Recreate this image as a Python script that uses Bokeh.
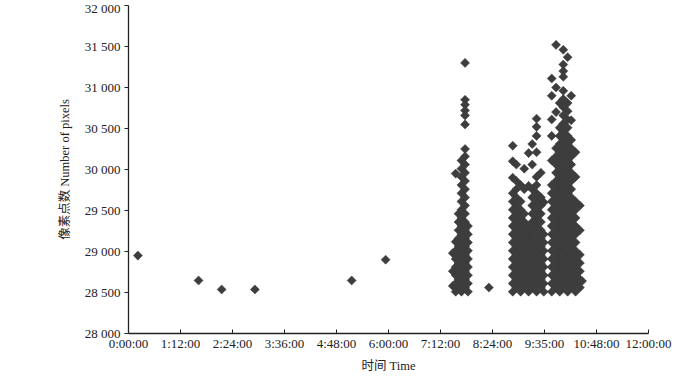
from bokeh.plotting import figure
from bokeh.models import FixedTicker
from bokeh.embed import file_html
from bokeh.resources import INLINE

# ---- data (time in minutes since 0:00:00, value = number of pixels) ----
x_ticks = [0, 72, 144, 216, 288, 360, 432, 504, 576, 648, 720]
x_tick_labels = ["0:00:00", "1:12:00", "2:24:00", "3:36:00", "4:48:00", "6:00:00",
                 "7:12:00", "8:24:00", "9:35:00", "10:48:00", "12:00:00"]
y_ticks = [28000, 28500, 29000, 29500, 30000, 30500, 31000, 31500, 32000]
y_tick_labels = ["28 000", "28 500", "29 000", "29 500", "30 000", "30 500",
                 "31 000", "31 500", "32 000"]

iso_time = [13, 97, 129, 175, 309, 356, 499]
iso_pixels = [28950, 28647, 28537, 28537, 28647, 28900, 28560]

burst1_time = [449, 453, 457, 461, 466, 470]
burst1_pixels = [
    [28580, 28760, 28980],
    [28510, 28610, 28710, 28810, 28910, 29010, 29120, 29950],
    [28560, 28660, 28760, 28860, 28960, 29060, 29160, 29260, 29360, 29460],
    [28510, 28610, 28710, 28810, 28910, 29010, 29110, 29210, 29310, 29410, 29510,
     29610, 29710, 29810, 29910, 30010, 30110],
    [28560, 28660, 28760, 28860, 28960, 29060, 29160, 29260, 29360, 29460, 29560,
     29660, 29760, 29860, 29960, 30060, 30160, 30250, 30550, 30660, 30720, 30790,
     30850, 31300],
    [28510, 28610, 28710, 28810, 28910, 29010, 29110, 29210, 29310],
]

burst2_time = [532, 537, 543, 548, 554, 559, 565, 571, 575]
burst2_pixels = [
    [28510, 28610, 28710, 28810, 28910, 29010, 29110, 29210, 29310, 29410, 29510,
     29610, 29710, 29900, 30100, 30290],
    [28560, 28660, 28760, 28860, 28960, 29060, 29160, 29260, 29360, 29460, 29560,
     29660, 29760, 29860, 30060],
    [28510, 28610, 28710, 28810, 28910, 29010, 29110, 29210, 29310, 29410, 29510,
     29610, 29810],
    [28560, 28660, 28760, 28860, 28960, 29060, 29160, 29260, 29360, 29460, 29760,
     30010],
    [28510, 28610, 28710, 28810, 28910, 29010, 29110, 29210, 29310, 29800, 30200],
    [28560, 28660, 28760, 28860, 28960, 29060, 29160, 29260, 29360, 29460, 29560,
     29660, 29760, 30060, 30310],
    [28510, 28610, 28710, 28810, 28910, 29010, 29110, 29210, 29310, 29410, 29510,
     29610, 29710, 29810, 29910, 30210, 30410, 30520, 30620],
    [28560, 28660, 28760, 28860, 28960, 29060, 29160, 29260, 29360, 29460, 29560,
     29660, 29960],
    [28510, 28610, 28710, 28810, 28910, 29010, 29110, 29210, 29600],
]

burst3_time = [586, 592, 597, 602, 608, 613, 619, 625, 628]
burst3_pixels = [
    [28510, 28610, 28710, 28810, 28910, 29010, 29110, 29210, 29310, 29410, 29510,
     29610, 29710, 29810, 30110, 30410, 30610, 30900, 31110],
    [28560, 28660, 28760, 28860, 28960, 29060, 29160, 29260, 29360, 29460, 29560,
     29660, 29760, 29860, 29960, 30060, 30160, 30260, 30700, 31000, 31520],
    [28510, 28610, 28710, 28810, 28910, 29010, 29110, 29210, 29310, 29410, 29510,
     29610, 29710, 29810, 29910, 30010, 30110, 30210, 30310, 30410, 30510, 30810],
    [28560, 28660, 28760, 28860, 28960, 29060, 29160, 29260, 29360, 29460, 29560,
     29660, 29760, 29860, 29960, 30060, 30160, 30260, 30360, 30460, 30560, 30660,
     30760, 30860, 30960, 31130, 31200, 31280, 31460],
    [28510, 28610, 28710, 28810, 28910, 29010, 29110, 29210, 29310, 29410, 29510,
     29610, 29710, 29810, 29910, 30010, 30110, 30210, 30310, 30410, 30510, 30610,
     30710, 30810, 31370],
    [28560, 28660, 28760, 28860, 28960, 29060, 29160, 29260, 29360, 29460, 29560,
     29660, 29760, 29860, 29960, 30060, 30160, 30260, 30360, 30600, 30900],
    [28510, 28610, 28710, 28810, 28910, 29010, 29110, 29210, 29310, 29410, 29510,
     29610, 29910, 30210],
    [28560, 28660, 28760, 28860, 28960, 29260, 29560],
    [28640],
]

x_title = "时间 Time"
y_title = "像素点数 Number of pixels"

# ---- flatten into plotting columns ----
xs = list(iso_time)
ys = list(iso_pixels)
for times, cols in ((burst1_time, burst1_pixels), (burst2_time, burst2_pixels),
                    (burst3_time, burst3_pixels)):
    for t, col in zip(times, cols):
        xs.extend([t] * len(col))
        ys.extend(col)

SERIF = "Liberation Serif, Noto Sans CJK SC"

p = figure(width=700, height=376, x_range=(0, 720), y_range=(28000, 32000),
           output_backend="svg", toolbar_location=None,
           min_border_left=128, min_border_right=52,
           min_border_top=5, min_border_bottom=43)
p.outline_line_color = None
p.xgrid.visible = False
p.ygrid.visible = False
p.background_fill_color = "white"
p.border_fill_color = "white"

p.scatter(xs, ys, marker="square", angle=0.785398, size=6.4,
          fill_color="#3d3d3d", line_color="#3d3d3d", line_width=0.5)

p.xaxis.ticker = FixedTicker(ticks=x_ticks)
p.xaxis.major_label_overrides = dict(zip(x_ticks, x_tick_labels))
p.yaxis.ticker = FixedTicker(ticks=y_ticks)
p.yaxis.major_label_overrides = dict(zip(y_ticks, y_tick_labels))

for ax in (p.xaxis[0], p.yaxis[0]):
    ax.axis_line_color = "#222222"
    ax.axis_line_width = 1.3
    ax.major_tick_line_color = "#222222"
    ax.minor_tick_line_color = None
    ax.major_label_text_font = SERIF
    ax.major_label_text_font_size = "13px"
    ax.major_label_text_color = "#222222"
    ax.axis_label_text_font = SERIF
    ax.axis_label_text_font_size = "12.5px"
    ax.axis_label_text_font_style = "normal"
    ax.axis_label_text_color = "#222222"

p.xaxis.major_tick_in = 4
p.xaxis.major_tick_out = 0
p.xaxis.major_label_standoff = 2
p.xaxis.axis_label = x_title
p.xaxis.axis_label_standoff = 5

p.yaxis.major_tick_in = 0
p.yaxis.major_tick_out = 4
p.yaxis.major_label_standoff = 4
p.yaxis.axis_label = y_title
p.yaxis.axis_label_standoff = 10

open("out.html", "w").write(file_html(p, INLINE))
